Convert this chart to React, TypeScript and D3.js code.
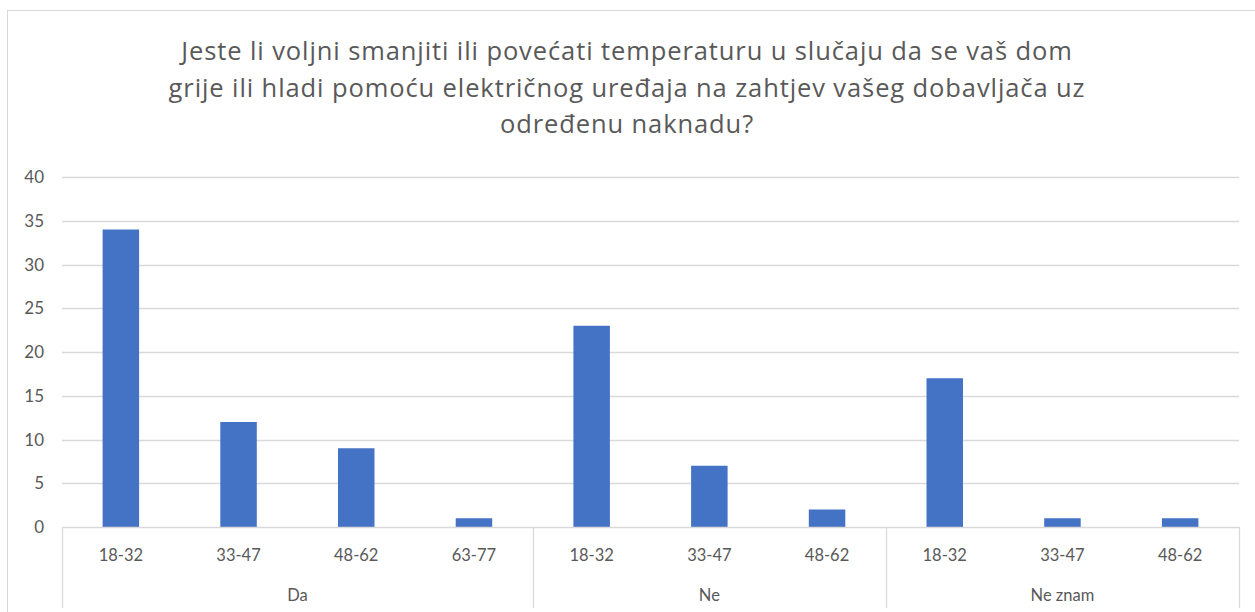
import React, { useEffect, useRef } from 'react';
import * as d3 from 'd3';

const groups = ['Da', 'Ne', 'Ne znam'];
const ageLabels = [
  ['18-32', '33-47', '48-62', '63-77'],
  ['18-32', '33-47', '48-62'],
  ['18-32', '33-47', '48-62'],
];
const values = [
  [34, 12, 9, 1],
  [23, 7, 2],
  [17, 1, 1],
];
const yTicks = [0, 5, 10, 15, 20, 25, 30, 35, 40];
const titleLines = [
  'Jeste li voljni smanjiti ili povećati temperaturu u slučaju da se vaš dom',
  'grije ili hladi pomoću električnog uređaja na zahtjev vašeg dobavljača uz',
  'određenu naknadu?',
];

const W = 1255;
const H = 612;
const TEXT = '#595959';
const GRID = '#d9d9d9';
const BAR = '#4472c4';
const FONT = 'Lato, "Open Sans", sans-serif';
const TITLE_FONT = '"Open Sans", sans-serif';

export default function App() {
  const ref = useRef<SVGSVGElement>(null);

  useEffect(() => {
    if (!ref.current) return;
    const svg = d3.select(ref.current);
    svg.selectAll('*').remove();

    const left = 62;
    const right = 1239;
    const top = 177;
    const bottom = 527;

    // flatten categories
    const flat: { key: string; label: string; value: number; g: number }[] = [];
    groups.forEach((g, gi) => {
      ageLabels[gi].forEach((a, ai) => {
        flat.push({ key: `${gi}-${ai}`, label: a, value: values[gi][ai], g: gi });
      });
    });

    const x = d3.scaleBand<string>().domain(flat.map((d) => d.key)).range([left, right]).paddingInner(0.69).paddingOuter(0.345);
    const band = (right - left) / flat.length;
    const y = d3.scaleLinear().domain([0, 40]).range([bottom, top]);

    // outer border
    svg.append('rect').attr('x', 7.5).attr('y', 10.5).attr('width', W).attr('height', H).attr('fill', 'none').attr('stroke', GRID);

    // title
    svg
      .append('g')
      .selectAll('text')
      .data(titleLines)
      .enter()
      .append('text')
      .attr('x', 627)
      .attr('y', (_, i) => 60 + i * 36.5)
      .attr('text-anchor', 'middle')
      .attr('font-family', TITLE_FONT)
      .attr('font-size', 25.5)
      .attr('letter-spacing', 0.9)
      .attr('fill', TEXT)
      .text((d) => d);

    // gridlines
    svg
      .append('g')
      .selectAll('line')
      .data(yTicks.filter((t) => t > 0))
      .enter()
      .append('line')
      .attr('x1', left)
      .attr('x2', right)
      .attr('y1', (d) => Math.round(y(d)) + 0.5)
      .attr('y2', (d) => Math.round(y(d)) + 0.5)
      .attr('stroke', GRID)
      .attr('stroke-width', 1.3);

    svg
      .append('g')
      .selectAll('text')
      .data(yTicks)
      .enter()
      .append('text')
      .attr('x', 44)
      .attr('y', (d) => y(d) + 6)
      .attr('text-anchor', 'end')
      .attr('font-family', FONT)
      .attr('font-size', 17)
      .attr('fill', TEXT)
      .text((d) => d);

    // bars
    svg
      .append('g')
      .selectAll('rect')
      .data(flat)
      .enter()
      .append('rect')
      .attr('x', (d) => x(d.key)!)
      .attr('width', x.bandwidth())
      .attr('y', (d) => y(d.value))
      .attr('height', (d) => bottom - y(d.value))
      .attr('fill', BAR);

    // x axis line
    svg.append('line').attr('x1', left).attr('x2', right).attr('y1', bottom + 0.5).attr('y2', bottom + 0.5).attr('stroke', GRID).attr('stroke-width', 1.3);

    // separators between groups
    const seps: number[] = [left];
    let idx = 0;
    ageLabels.forEach((a) => {
      idx += a.length;
      seps.push(left + idx * band);
    });
    svg
      .append('g')
      .selectAll('line')
      .data(seps)
      .enter()
      .append('line')
      .attr('x1', (d) => Math.round(d) + 0.5)
      .attr('x2', (d) => Math.round(d) + 0.5)
      .attr('y1', bottom)
      .attr('y2', 608)
      .attr('stroke', GRID)
      .attr('stroke-width', 1.3);

    // category labels
    svg
      .append('g')
      .selectAll('text')
      .data(flat)
      .enter()
      .append('text')
      .attr('x', (d) => x(d.key)! + x.bandwidth() / 2)
      .attr('y', 561)
      .attr('text-anchor', 'middle')
      .attr('font-family', FONT)
      .attr('font-size', 16.5)
      .attr('fill', TEXT)
      .text((d) => d.label);

    // group labels
    svg
      .append('g')
      .selectAll('text')
      .data(groups)
      .enter()
      .append('text')
      .attr('x', (_, i) => (seps[i] + seps[i + 1]) / 2)
      .attr('y', 601)
      .attr('text-anchor', 'middle')
      .attr('font-family', FONT)
      .attr('font-size', 16.5)
      .attr('fill', TEXT)
      .text((d) => d);
  }, []);

  return <svg ref={ref} width={W} height={H} style={{ position: 'absolute', top: 0, left: 0, background: '#fff' }} />;
}
